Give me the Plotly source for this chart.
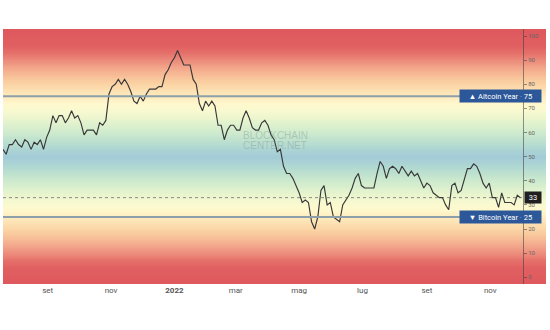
import datetime as dt
import plotly.graph_objects as go

# ---- data -------------------------------------------------------------
start_date = dt.date(2021, 7, 20)
step_days = 3
season_index = [
    53, 51, 55, 55, 57, 55, 54, 57, 56, 53, 56, 55, 57, 53, 58, 61, 67, 64, 67, 67,
    64, 66, 69, 66, 67, 64, 59, 61, 61, 61, 59, 64, 63, 65, 76, 79, 80, 82, 80, 82,
    80, 77, 73, 72, 75, 73, 76, 78, 78, 78, 79, 79, 84, 86, 89, 91, 94, 91, 88, 88,
    88, 82, 80, 72, 69, 73, 71, 73, 71, 63, 63, 57, 61, 63, 63, 61, 61, 66, 69, 66,
    62, 61, 61, 64, 65, 63, 59, 57, 52, 53, 46, 43, 43, 41, 38, 35, 31, 32, 31, 23,
    20, 25, 36, 38, 30, 31, 25, 24, 23, 30, 32, 34, 37, 41, 43, 38, 37, 37, 37, 37,
    43, 48, 46, 41, 45, 46, 45, 43, 46, 44, 42, 44, 42, 43, 40, 37, 39, 38, 35, 34,
    33, 33, 30, 28, 38, 39, 35, 36, 40, 45, 45, 47, 46, 43, 39, 37, 39, 33, 33, 29,
    35, 31, 31, 31, 30, 34, 33,
]
dates = [start_date + dt.timedelta(days=step_days * i) for i in range(len(season_index))]

altcoin_level = 75
bitcoin_level = 25
altcoin_label = "Altcoin Year"
bitcoin_label = "Bitcoin Year"

month_ticks = ["2021-09-01", "2021-11-01", "2022-01-01", "2022-03-01",
               "2022-05-01", "2022-07-01", "2022-09-01", "2022-11-01"]
month_labels = ["set", "nov", "<b>2022</b>", "mar", "mag", "lug", "set", "nov"]
value_ticks = list(range(0, 101, 10))

# ---- styling ----------------------------------------------------------
Y_MIN, Y_MAX = -2.8, 102.9
X_RANGE = ["2021-07-20", "2022-12-02 12:00"]
FONT = "Roboto, 'Liberation Sans', sans-serif"
W, H = 550, 330
M_L, M_R, M_T, M_B = 3, 4, 29, 46
PLOT_W = W - M_L - M_R
SCALE_X = (523 - M_L) / PLOT_W          # where the value scale sits (paper units)

# colour stops for the upper half of the scale (mirrored below 50)
stops = [
    (50, (163, 203, 215)), (53, (172, 212, 212)), (57, (190, 226, 206)),
    (61, (210, 236, 205)), (65, (230, 244, 206)), (69, (248, 249, 208)),
    (72, (255, 248, 205)), (75, (254, 236, 190)), (78, (252, 222, 175)),
    (81, (250, 207, 162)), (84, (247, 188, 150)), (87, (242, 165, 138)),
    (90, (236, 140, 124)), (93, (229, 112, 106)), (96, (224, 95, 97)),
    (104, (222, 87, 92)),
]


def band_colour(v):
    u = v if v >= 50 else 100 - v
    u = max(50, min(104, u))
    for (a, ca), (b, cb) in zip(stops, stops[1:]):
        if a <= u <= b:
            t = (u - a) / (b - a)
            c = [round(ca[k] + (cb[k] - ca[k]) * t) for k in range(3)]
            return f"rgb({c[0]},{c[1]},{c[2]})"
    return "rgb(222,87,92)"


# smooth background: a two-column heatmap whose z is the scale value itself
g_lo, g_hi = -4, 104
grad_levels = list(range(g_lo, g_hi + 1))
colorscale = [[(lv - g_lo) / (g_hi - g_lo), band_colour(lv)] for lv in grad_levels]

fig = go.Figure()
fig.add_trace(go.Heatmap(
    x=[0, 1], y=grad_levels, z=[[lv, lv] for lv in grad_levels],
    colorscale=colorscale, zmin=g_lo, zmax=g_hi, zsmooth="best",
    showscale=False, hoverinfo="skip", xaxis="x", yaxis="y"))

fig.add_trace(go.Scatter(x=dates, y=season_index, mode="lines",
                         line=dict(color="#383838", width=1.15),
                         hoverinfo="skip", showlegend=False,
                         xaxis="x2", yaxis="y"))

shapes = []
for lvl in (altcoin_level, bitcoin_level):
    shapes.append(dict(type="line", xref="paper", yref="y", x0=0, x1=SCALE_X,
                       y0=lvl, y1=lvl, line=dict(color="#8d9fa9", width=2)))

last_value = season_index[-1]
shapes.append(dict(type="line", xref="paper", yref="y", x0=0, x1=SCALE_X,
                   y0=last_value, y1=last_value,
                   line=dict(color="rgba(70,70,70,0.6)", width=1, dash="dot")))


def px(xpix):
    return (xpix - M_L) / PLOT_W


dot = "<span style='color:#aebfdc'>·</span>"
tag_right = px(542)
annotations = [
    dict(text=f"▲ {altcoin_label} {dot} {altcoin_level}", xref="paper", yref="y",
         x=tag_right, y=altcoin_level, xanchor="right", yanchor="middle", showarrow=False,
         bgcolor="#2c5899", width=79, height=10, borderpad=1,
         font=dict(family=FONT, size=7.5, color="white")),
    dict(text=f"▼ {bitcoin_label} {dot} {bitcoin_level}", xref="paper", yref="y",
         x=tag_right, y=bitcoin_level, xanchor="right", yanchor="middle", showarrow=False,
         bgcolor="#2c5899", width=79, height=10, borderpad=1,
         font=dict(family=FONT, size=7.5, color="white")),
    dict(text=str(last_value), xref="paper", yref="y",
         x=tag_right, y=last_value, xanchor="right", yanchor="middle", showarrow=False,
         bgcolor="#1f1f1f", width=14, height=9, borderpad=1,
         font=dict(family=FONT, size=7.5, color="white")),
    # watermark
    dict(text="BLOCKCHAIN", xref="paper", yref="paper", x=px(275), y=0.582,
         showarrow=False, font=dict(family="Liberation Sans", size=10,
                                    color="rgba(120,140,140,0.38)")),
    dict(text="CENTER.NET", xref="paper", yref="paper", x=px(275), y=0.543,
         showarrow=False, font=dict(family="Liberation Sans", size=10,
                                    color="rgba(120,140,140,0.38)")),
]

fig.update_layout(
    width=W, height=H,
    margin=dict(l=M_L, r=M_R, t=M_T, b=M_B),
    paper_bgcolor="white", plot_bgcolor="rgba(0,0,0,0)",
    shapes=shapes, annotations=annotations,
    font=dict(family=FONT),
    xaxis=dict(domain=[0, 1], range=[0, 1], visible=False, fixedrange=True),
    xaxis2=dict(domain=[0, SCALE_X], anchor="y", range=X_RANGE, type="date",
                showgrid=False, zeroline=False, showline=False,
                tickvals=month_ticks, ticktext=month_labels, ticks="",
                tickfont=dict(size=8, color="#555555", family=FONT), fixedrange=True),
    yaxis=dict(range=[Y_MIN, Y_MAX], side="right", anchor="free", position=SCALE_X,
               showgrid=False, zeroline=False,
               showline=True, linecolor="rgba(60,60,60,0.55)", linewidth=1,
               ticks="outside", ticklen=3, tickcolor="rgba(60,60,60,0.55)",
               tickvals=value_ticks, tickfont=dict(size=6, color="#666666", family=FONT),
               fixedrange=True),
)

fig.write_html("out.html")
